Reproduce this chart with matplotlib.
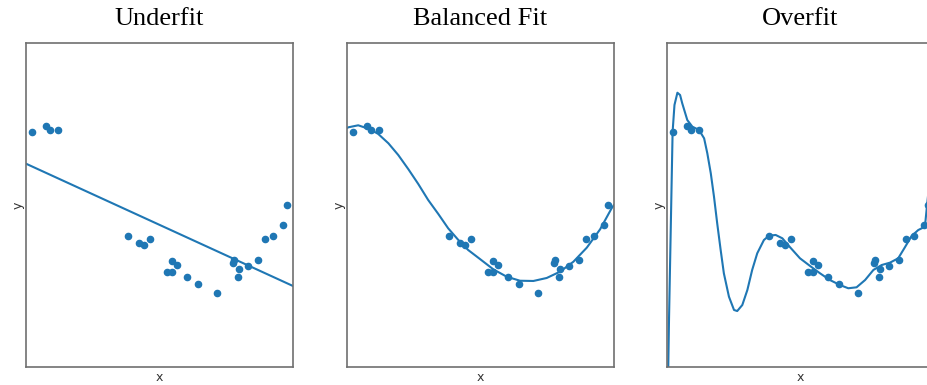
import numpy as np
import matplotlib
matplotlib.use("Agg")
import matplotlib.pyplot as plt

# 样本点
x_samples = [0.021, 0.075, 0.090, 0.121, 0.383, 0.424, 0.441, 0.463,
             0.529, 0.546, 0.548, 0.567, 0.602, 0.645, 0.714, 0.776,
             0.779, 0.793, 0.798, 0.833, 0.870, 0.895, 0.925, 0.963, 0.979]
y_samples = [0.899, 0.981, 0.924, 0.924, -0.388, -0.470, -0.495, -0.416,
             -0.823, -0.827, -0.695, -0.741, -0.893, -0.979, -1.083, -0.720,
             -0.679, -0.885, -0.790, -0.753, -0.679, -0.423, -0.379, -0.243, -0.004]

# 欠拟合: 直线
under_x = [0.0, 1.0]
under_y = [0.51, -1.0]

# 适度拟合
balanced_x = [0.0, 0.005, 0.042, 0.086, 0.117, 0.155, 0.192, 0.230, 0.267, 0.304,
              0.342, 0.379, 0.417, 0.454, 0.498, 0.548, 0.598, 0.648, 0.698,
              0.748, 0.798, 0.848, 0.898, 0.948, 0.991, 1.0]
balanced_y = [0.95, 0.959, 0.984, 0.935, 0.877, 0.762, 0.617, 0.441, 0.259, 0.062,
              -0.111, -0.288, -0.432, -0.556, -0.667, -0.794, -0.885, -0.935, -0.938,
              -0.901, -0.823, -0.700, -0.527, -0.300, -0.041, 0.0]

# 过拟合
over_x = [0.0, 0.0075, 0.021, 0.028, 0.039, 0.049, 0.057, 0.076, 0.095, 0.120,
          0.139, 0.151, 0.164, 0.176, 0.188, 0.201, 0.213, 0.232, 0.251, 0.263,
          0.282, 0.301, 0.319, 0.338, 0.363, 0.382, 0.407, 0.432, 0.461, 0.498,
          0.536, 0.573, 0.610, 0.648, 0.679, 0.710, 0.742, 0.773, 0.804, 0.835,
          0.866, 0.891, 0.916, 0.941, 0.966, 0.974, 1.0]
over_y = [-3.0, -1.42, 0.905, 1.235, 1.386, 1.358, 1.256, 1.049, 0.967, 0.926,
          0.823, 0.638, 0.391, 0.103, -0.226, -0.556, -0.844, -1.132, -1.296, -1.309,
          -1.235, -1.049, -0.802, -0.596, -0.432, -0.379, -0.370, -0.411, -0.522, -0.658,
          -0.753, -0.843, -0.926, -0.988, -1.028, -1.016, -0.926, -0.802, -0.741, -0.712,
          -0.658, -0.522, -0.383, -0.309, -0.268, 0.0, 0.8]

titles = ["Underfit", "Balanced Fit", "Overfit"]
fits = [(under_x, under_y), (balanced_x, balanced_y), (over_x, over_y)]

W, H = 927, 385
fig = plt.figure(figsize=(W / 100, H / 100), dpi=100)
blue = "#1f77b4"

lefts = [26, 347, 667]
for left, title, (fx, fy) in zip(lefts, titles, fits):
    ax = fig.add_axes([left / W, 18 / H, 267 / W, 324 / H])
    ax.plot(fx, fy, color=blue, lw=1.5, zorder=2)
    ax.scatter(x_samples, y_samples, s=20, color=blue, zorder=3)
    ax.set_xlim(0, 1)
    ax.set_ylim(-2, 2)
    ax.set_xticks([])
    ax.set_yticks([])
    for sp in ax.spines.values():
        sp.set_color("#707070")
        sp.set_linewidth(1.2)
    ax.set_xlabel("x", fontsize=9, color="#333333", labelpad=3)
    ax.set_ylabel("y", fontsize=9, color="#333333", labelpad=1)
    ax.set_title(title, fontsize=19, family="Liberation Serif", pad=13)

fig.savefig("out.png", dpi=100)
